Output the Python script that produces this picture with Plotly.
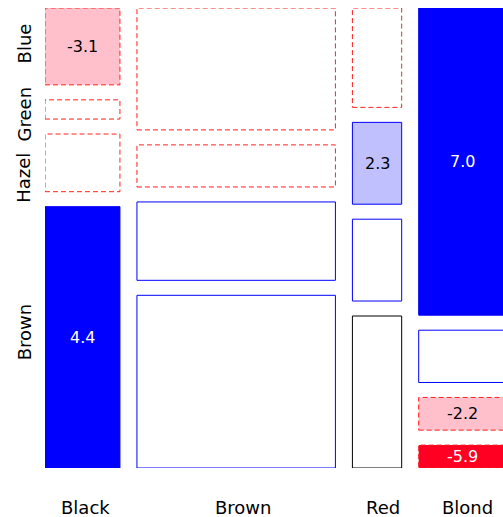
import numpy as np
import plotly.graph_objects as go

# hair colour columns (left to right), eye colour rows (bottom to top)
hair = ["Black", "Brown", "Red", "Blond"]
eye = ["Brown", "Hazel", "Green", "Blue"]

black_counts = [68, 15, 5, 20]
brown_counts = [119, 54, 29, 84]
red_counts = [26, 14, 14, 17]
blond_counts = [7, 10, 16, 94]

counts = np.array([black_counts, brown_counts, red_counts, blond_counts], dtype=float)

# Pearson residuals
total = counts.sum()
expected = np.outer(counts.sum(axis=1), counts.sum(axis=0)) / total
resid = (counts - expected) / np.sqrt(expected)

x_gap = 24.5      # gap between columns, in count units
y_gap = 0.0361    # gap between boxes, as fraction of column height

# small nudges for the axis labels (pixels)
eye_label_shift = [5, -15, -5, 3]
hair_label_shift = [3, 7, 6, 5]

FONT = "DejaVu Sans, Arial, sans-serif"


def fill_for(r):
    if r > 4:
        return "#0000ff"
    if r > 2:
        return "#c0c0ff"
    if r < -4:
        return "#ff0022"
    if r < -2:
        return "#ffc0cb"
    return "white"


fig = go.Figure()

x0 = 0.0
for i, h in enumerate(hair):
    w = counts[i].sum()
    y0 = 0.0
    for j, e in enumerate(eye):
        hgt = counts[i, j] / w
        r = resid[i, j]
        if abs(r) < 0.1:
            lc, dash = "black", "solid"
        elif r > 0:
            lc, dash = "blue", "solid"
        else:
            lc, dash = "#ff2020", "5px,3px"
        fig.add_trace(
            go.Scatter(
                x=[x0, x0 + w, x0 + w, x0, x0],
                y=[y0, y0, y0 + hgt, y0 + hgt, y0],
                mode="lines",
                fill="toself",
                fillcolor=fill_for(r),
                line=dict(color=lc, width=1, dash=dash),
                hoverinfo="skip",
                showlegend=False,
            )
        )
        if abs(r) > 2:
            fig.add_annotation(
                x=x0 + w / 2,
                y=y0 + hgt / 2,
                text=f"{r:.1f}",
                showarrow=False,
                font=dict(size=16, color="white" if abs(r) > 4 else "black"),
            )
        # eye labels next to the first column
        if i == 0:
            fig.add_annotation(
                x=0,
                xref="paper",
                xanchor="center",
                yanchor="middle",
                xshift=-21,
                y=y0 + hgt / 2,
                yshift=eye_label_shift[j],
                text=e,
                textangle=-90,
                showarrow=False,
                font=dict(size=18, color="black"),
            )
        y0 += hgt + y_gap
    # hair labels under each column
    fig.add_annotation(
        x=x0 + w / 2,
        xshift=hair_label_shift[i],
        y=0,
        yref="paper",
        xanchor="center",
        yanchor="middle",
        yshift=-39,
        text=h,
        showarrow=False,
        font=dict(size=18, color="black"),
    )
    x0 += w + x_gap

fig.update_layout(
    width=503,
    height=517,
    margin=dict(l=45, r=0, t=8, b=49),
    plot_bgcolor="white",
    paper_bgcolor="white",
    font=dict(family=FONT),
    xaxis=dict(range=[0, 660], visible=False, fixedrange=True),
    yaxis=dict(range=[0, 1 + 3 * y_gap], visible=False, fixedrange=True),
)

fig.write_html(
    "out.html",
    config={"displayModeBar": False},
    post_script="document.body.style.margin='0px';document.body.style.overflow='hidden';",
)
